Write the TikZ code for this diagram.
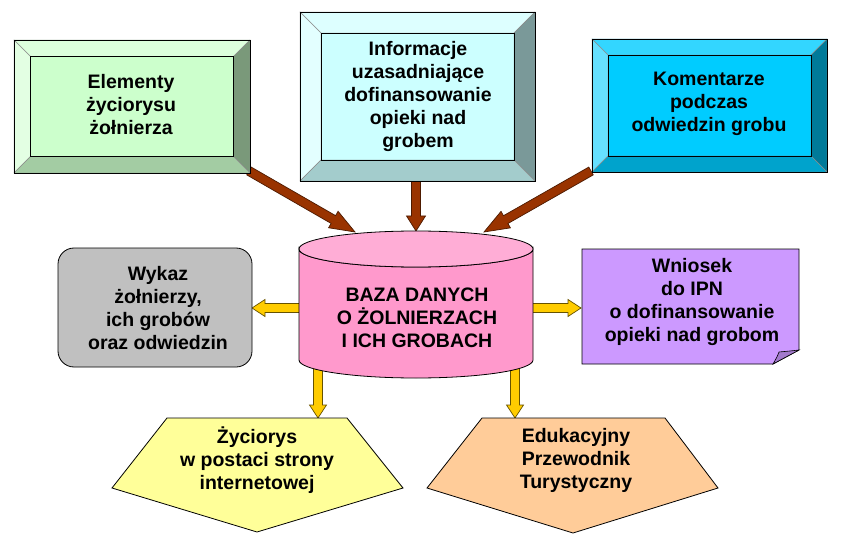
\documentclass[tikz,border=0pt]{standalone}
\usepackage{fontspec}
\setmainfont{Liberation Sans}
\usetikzlibrary{calc}
\definecolor{gAface}{HTML}{CCFFCC}\definecolor{gAtop}{HTML}{DDFFDD}\definecolor{gAleft}{HTML}{E3FFE3}\definecolor{gAright}{HTML}{7A997A}\definecolor{gAbottom}{HTML}{A3CCA3}
\definecolor{gBface}{HTML}{CCFFFF}\definecolor{gBtop}{HTML}{DDFFFF}\definecolor{gBleft}{HTML}{E3FFFF}\definecolor{gBright}{HTML}{7A9999}\definecolor{gBbottom}{HTML}{A3CCCC}
\definecolor{gCface}{HTML}{00CCFF}\definecolor{gCtop}{HTML}{33D6FF}\definecolor{gCleft}{HTML}{66E0FF}\definecolor{gCright}{HTML}{007A99}\definecolor{gCbottom}{HTML}{00A3CC}
\definecolor{dbpink}{HTML}{FF99CC}\definecolor{dbtop}{HTML}{FFADD6}
\definecolor{grayfill}{HTML}{C0C0C0}
\definecolor{purp}{HTML}{CC99FF}\definecolor{purpfold}{HTML}{A37ACC}
\definecolor{pentY}{HTML}{FFFF99}\definecolor{pentO}{HTML}{FFCC99}
\definecolor{brownA}{HTML}{993300}\definecolor{brownE}{HTML}{4D1A00}
\definecolor{yelA}{HTML}{FFCC00}\definecolor{yelE}{HTML}{665200}
\newcommand\bevbox[6]{%
 \path[fill=#6face] (#1,#2) rectangle (#3,#4);
 \path[fill=#6top, draw=black!45, line width=0.4pt] (#1,#2) -- (#3,#2) -- ({#3-#5},{#2+#5}) -- ({#1+#5},{#2+#5}) -- cycle;
 \path[fill=#6left, draw=black!45, line width=0.4pt] (#1,#2) -- ({#1+#5},{#2+#5}) -- ({#1+#5},{#4-#5}) -- (#1,#4) -- cycle;
 \path[fill=#6right, draw=black!45, line width=0.4pt] (#3,#2) -- ({#3-#5},{#2+#5}) -- ({#3-#5},{#4-#5}) -- (#3,#4) -- cycle;
 \path[fill=#6bottom, draw=black!45, line width=0.4pt] (#1,#4) -- ({#1+#5},{#4-#5}) -- ({#3-#5},{#4-#5}) -- (#3,#4) -- cycle;
 \draw[line width=0.9pt] (#1,#2) rectangle (#3,#4);
 \draw[line width=0.9pt] ({#1+#5},{#2+#5}) rectangle ({#3-#5},{#4-#5});
}
% block arrow: [style]{from}{to}{shaft half}{head half}{head length}
\newcommand\blockarr[6][]{%
 \coordinate (ba-h) at ($(#3)!#6!(#2)$);
 \draw[#1] ($(#2)!#4!90:(#3)$) -- ($(ba-h)!#4!90:(#3)$) -- ($(ba-h)!#5!90:(#3)$) -- (#3)
   -- ($(ba-h)!#5!-90:(#3)$) -- ($(ba-h)!#4!-90:(#3)$) -- ($(#2)!#4!-90:(#3)$) -- cycle;}
\begin{document}
\begin{tikzpicture}[x=1pt,y=-1pt,
  txt/.style={font=\fontsize{19.5}{23}\selectfont\bfseries, align=center, inner sep=0pt},
  brownarrow/.style={fill=brownA, draw=brownE, line width=0.7pt, line join=miter},
  yelarrow/.style={fill=yelA, draw=yelE, line width=0.7pt, line join=miter}]
\useasboundingbox (0,0) rectangle (842,545);
\fill[white] (0,0) rectangle (842,545);

% coordinates for connectors
\coordinate (b1out) at (249,171);
\coordinate (b2out) at (416,179);
\coordinate (b3out) at (591,171);
\coordinate (dbinL) at (355,232);
\coordinate (dbinM) at (416,231);
\coordinate (dbinR) at (484,232);
\coordinate (dboutL) at (302,308);
\coordinate (dboutR) at (530,308);
\coordinate (dboutD1) at (318,366);
\coordinate (dboutD2) at (515,366);
\coordinate (wykazin) at (252,308);
\coordinate (wnioin) at (581,308);
\coordinate (pent1in) at (318,418);
\coordinate (pent2in) at (515,418);

% arrows (drawn first, shapes on top)
\blockarr[brownarrow]{b1out}{dbinL}{4.5pt}{9.5pt}{25pt}
\blockarr[brownarrow]{b2out}{dbinM}{4.5pt}{9.5pt}{15pt}
\blockarr[brownarrow]{b3out}{dbinR}{4.5pt}{9.5pt}{25pt}
\blockarr[yelarrow]{dboutL}{wykazin}{4.5pt}{8.5pt}{13pt}
\blockarr[yelarrow]{dboutR}{wnioin}{4.5pt}{8.5pt}{13pt}
\blockarr[yelarrow]{dboutD1}{pent1in}{4.5pt}{8.5pt}{13pt}
\blockarr[yelarrow]{dboutD2}{pent2in}{4.5pt}{8.5pt}{13pt}

% bevelled boxes
\bevbox{14}{40}{250}{173}{16.5}{gA}
\node[txt] (b1) at (131,105) {Elementy\\życiorysu\\żołnierza};
\bevbox{300}{12}{535}{181}{21}{gB}
\node[txt] (b2) at (418,97) {Informacje\\uzasadniające\\dofinansowanie\\opieki nad\\grobem};
\bevbox{592}{39}{827}{172}{16}{gC}
\node[txt] (b3) at (709,104) {Komentarze\\podczas\\odwiedzin grobu};

% database cylinder
\path[draw=black, line width=0.8pt, fill=dbpink] (299,249) -- (299,360)
  arc[start angle=180, end angle=0, x radius=117, y radius=18] -- (533,249)
  arc[start angle=0, end angle=180, x radius=117, y radius=18] -- cycle;
\draw[line width=0.8pt, fill=dbtop] (416,249) ellipse[x radius=117, y radius=18];
\node[txt] (db) at (417,318) {BAZA DANYCH\\O ŻOLNIERZACH\\I ICH GROBACH};

% gray rounded box
\draw[line width=0.8pt, fill=grayfill, rounded corners=16pt] (58,248) rectangle (252,367);
\node[txt] (wykaz) at (158,308) {Wykaz\\żołnierzy,\\ich grobów\\oraz odwiedzin};

% purple note
\path[draw=black, line width=0.8pt, fill=purp] (582,249) -- (799,249) -- (799,350) -- (773,364) -- (582,364) -- cycle;
\path[draw=black, line width=0.6pt, fill=purpfold] (799,350) .. controls (790,351) .. (779,352) .. controls (777,357) .. (773,364) -- cycle;
\node[txt] (wnio) at (692,302) {Wniosek\\do IPN\\o dofinansowanie\\opieki nad grobom};

% pentagons
\path[draw=black, line width=0.8pt, fill=pentY] (167,418) -- (347,418) -- (403,488) -- (257,532) -- (112,488) -- cycle;
\node[txt] (pent1) at (257,460) {Życiorys\\w postaci strony\\internetowej};
\path[draw=black, line width=0.8pt, fill=pentO] (482,418) -- (665,418) -- (718,488) -- (573,533) -- (427,488) -- cycle;
\node[txt] (pent2) at (576,460) {Edukacyjny\\Przewodnik\\Turystyczny};
\end{tikzpicture}
\end{document}
